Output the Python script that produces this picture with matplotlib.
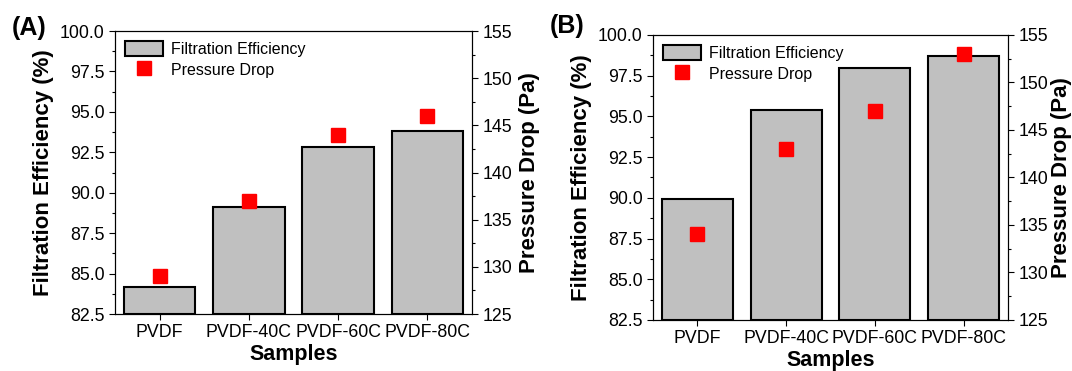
import numpy as np
import matplotlib.pyplot as plt
from matplotlib.ticker import MultipleLocator

plt.rcParams['font.family'] = ['Liberation Sans', 'DejaVu Sans']

samples = ["PVDF", "PVDF-40C", "PVDF-60C", "PVDF-80C"]

# panel A
eff_a = [84.2, 89.1, 92.8, 93.8]
dp_a = [129, 137, 144, 146]

# panel B
eff_b = [89.9, 95.4, 98.0, 98.7]
dp_b = [134, 143, 147, 153]

bar_color = "#c0c0c0"
marker_color = "#ff0000"


def draw_panel(fig, rect, eff, dp, tag, tag_xy, rpad):
    ax = fig.add_axes(rect)
    x = np.arange(len(samples))
    bars = ax.bar(x, np.array(eff) - 82.5, bottom=82.5, width=0.8,
                  color=bar_color, edgecolor="black", linewidth=1.5,
                  label="Filtration Efficiency")
    ax.set_xlim(-0.5, 3.5)
    ax.set_ylim(82.5, 100.0)
    yt = np.arange(82.5, 100.01, 2.5)
    ax.set_yticks(yt)
    ax.set_yticklabels([f"{v:.1f}" for v in yt])
    ax.yaxis.set_minor_locator(MultipleLocator(1.25))
    ax.set_xticks(x)
    ax.set_xticklabels(samples)
    ax.tick_params(axis="both", which="major", labelsize=12.8, length=4, width=0.8)
    ax.tick_params(axis="y", which="minor", length=2.5, width=0.8)
    ax.set_xlabel("Samples", fontsize=15.5, fontweight="bold", labelpad=2)
    ax.set_ylabel("Filtration Efficiency (%)", fontsize=16, fontweight="bold", labelpad=4)

    ax2 = ax.twinx()
    pts, = ax2.plot(x, dp, linestyle="none", marker="s", markersize=9.5,
                    color=marker_color, label="Pressure Drop")
    ax2.set_ylim(125, 155)
    ax2.yaxis.set_major_locator(MultipleLocator(5))
    ax2.yaxis.set_minor_locator(MultipleLocator(2.5))
    ax2.tick_params(axis="y", which="major", labelsize=12.8, length=4, width=0.8)
    ax2.tick_params(axis="y", which="minor", length=2.5, width=0.8)
    ax2.set_ylabel("Pressure Drop (Pa)", fontsize=16, fontweight="bold", labelpad=rpad)
    for a in (ax, ax2):
        for s in a.spines.values():
            s.set_linewidth(0.8)

    ax.legend([bars, pts], ["Filtration Efficiency", "Pressure Drop"],
              loc="upper left", frameon=False, fontsize=11.5,
              handlelength=2.4, handleheight=1.1, borderaxespad=0.2,
              labelspacing=0.3, handletextpad=0.5)

    fig.text(tag_xy[0], tag_xy[1], tag,
             fontsize=18, fontweight="bold", va="center", ha="left")


fig = plt.figure(figsize=(10.72, 3.71), dpi=100)
draw_panel(fig, [0.1073, 0.1536, 0.333, 0.7628], eff_a, dp_a, "(A)", (0.011, 0.925), 5)
draw_panel(fig, [0.6091, 0.1375, 0.3312, 0.7682], eff_b, dp_b, "(B)", (0.513, 0.93), 2)

fig.savefig("out.png", dpi=100)
